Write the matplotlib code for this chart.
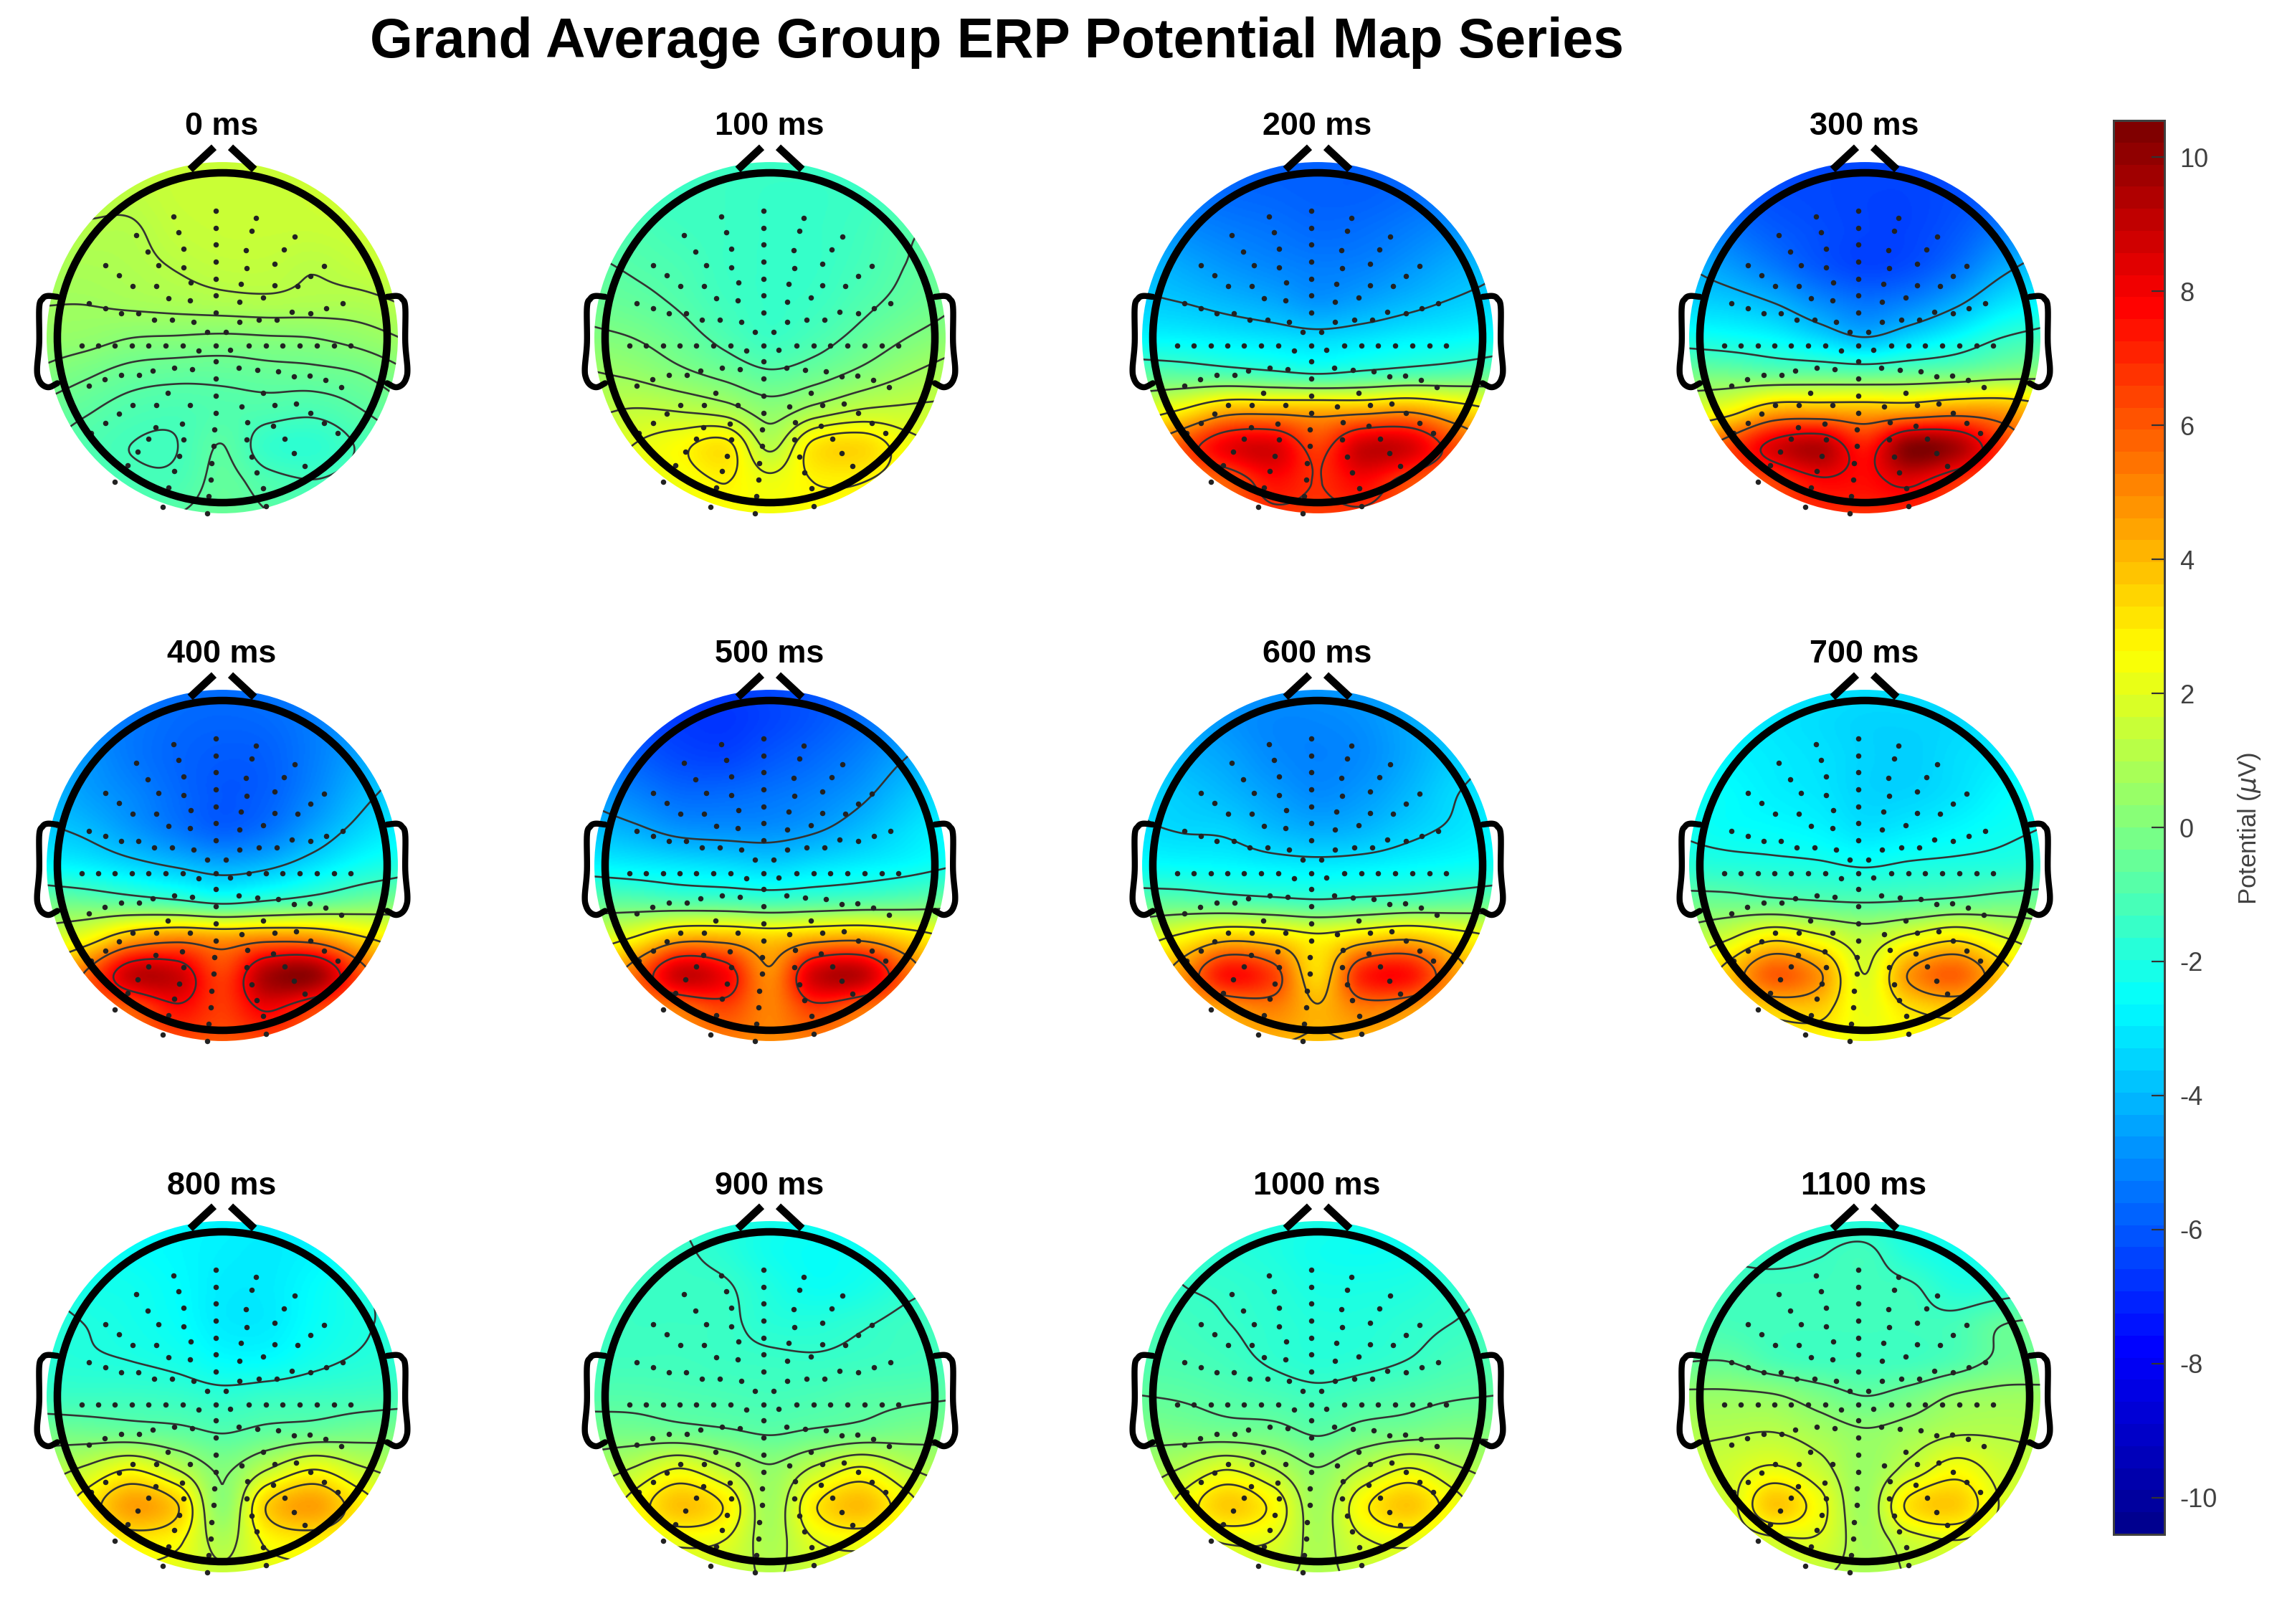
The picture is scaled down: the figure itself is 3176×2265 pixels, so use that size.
import numpy as np
import matplotlib
matplotlib.use("Agg")
import matplotlib.pyplot as plt
from matplotlib.colors import LinearSegmentedColormap, Normalize
from matplotlib.cm import ScalarMappable
from matplotlib.patches import Circle

plt.rcParams['font.family'] = ['Liberation Sans', 'DejaVu Sans']
plt.rcParams['mathtext.fontset'] = 'dejavusans'
plt.rcParams['axes.unicode_minus'] = False

W, H = 3176, 2265
DPI = 200

titles = ['0 ms', '100 ms', '200 ms', '300 ms', '400 ms', '500 ms', '600 ms', '700 ms',
          '800 ms', '900 ms', '1000 ms', '1100 ms']
cbar_ticks = [-10, -8, -6, -4, -2, 0, 2, 4, 6, 8, 10]
clim = 10.55

# Potential (uV): rows run front to back, columns left to right
grid_x = [-1.1, -0.825, -0.55, -0.275, 0, 0.275, 0.55, 0.825, 1.1]
grid_y = [1.1, 0.88, 0.66, 0.44, 0.22, 0, -0.22, -0.44, -0.66, -0.88, -1.1]

T0 = [[1.4,1.4,1.4,1.5,1.5,1.5,1.6,1.7,1.7],
      [1.3,1.3,1.3,1.5,1.5,1.5,1.6,1.7,1.7],
      [1.1,1.1,1.1,1.4,1.5,1.5,1.5,1.6,1.7],
      [0.9,0.9,1.0,1.2,1.35,1.35,1.2,1.4,1.6],
      [0.7,0.7,0.8,0.9,1.0,1.05,1.0,1.0,1.2],
      [0.5,0.4,0.2,0.15,0.1,0.15,0.2,0.4,0.7],
      [0.1,-0.2,-0.5,-0.6,-0.6,-0.5,-0.45,-0.3,0.1],
      [-0.4,-0.7,-1.0,-1.1,-0.95,-1.0,-1.1,-0.8,-0.4],
      [-0.7,-1.0,-1.25,-1.25,-0.75,-1.55,-1.7,-1.2,-0.8],
      [-0.8,-0.9,-1.1,-1.1,-0.6,-1.0,-1.2,-1.0,-0.8],
      [-0.7,-0.7,-0.8,-0.7,-0.5,-0.7,-0.9,-0.8,-0.7]]
T1 = [[-1.4,-1.4,-1.4,-1.4,-1.4,-1.4,-1.4,-1.3,-1.2],
      [-1.3,-1.4,-1.4,-1.4,-1.5,-1.5,-1.4,-1.2,-1.0],
      [-1.0,-1.1,-1.3,-1.4,-1.5,-1.5,-1.3,-0.9,-0.7],
      [-0.7,-0.9,-1.1,-1.4,-1.5,-1.5,-1.2,-0.8,-0.5],
      [-0.4,-0.6,-0.9,-1.3,-1.5,-1.4,-1.0,-0.6,-0.2],
      [0.1,-0.1,-0.5,-1.0,-1.4,-1.1,-0.6,-0.1,0.3],
      [0.7,0.5,0.1,-0.3,-0.7,-0.4,0.1,0.6,1.0],
      [1.2,1.4,1.3,1.0,0.3,0.9,1.4,1.5,1.5],
      [1.7,2.1,2.6,3.1,1.2,3.1,3.4,2.4,1.9],
      [2.0,2.2,2.4,2.8,2.3,2.8,2.8,2.4,2.0],
      [2.2,2.3,2.4,2.5,2.4,2.5,2.5,2.3,2.2]]
T2 = [[-5.6,-5.7,-5.8,-5.9,-5.9,-5.9,-5.8,-5.7,-5.6],
      [-5.2,-5.5,-5.7,-5.8,-5.9,-5.9,-5.7,-5.4,-5.2],
      [-4.6,-5.0,-5.3,-5.5,-5.7,-5.6,-5.3,-4.9,-4.5],
      [-4.0,-4.4,-4.8,-5.1,-5.3,-5.2,-4.8,-4.3,-3.9],
      [-3.6,-3.8,-4.1,-4.4,-4.8,-4.5,-4.1,-3.7,-3.4],
      [-2.7,-2.8,-3.0,-3.2,-3.4,-3.2,-2.9,-2.7,-2.4],
      [-0.7,-0.8,-1.0,-1.3,-1.6,-1.3,-1.0,-0.8,-0.5],
      [1.8,2.8,4.2,4.3,4.2,4.3,4.6,3.6,2.6],
      [4.3,6.2,8.2,8.6,6.6,8.9,8.7,6.4,4.5],
      [4.6,5.2,6.0,7.6,7.0,7.8,6.4,5.4,4.7],
      [5.4,5.8,6.2,6.6,6.6,6.6,6.2,5.8,5.4]]
T3 = [[-6.1,-6.2,-6.3,-6.4,-6.4,-6.4,-6.3,-6.2,-6.1],
      [-5.7,-6.1,-6.3,-6.4,-6.5,-6.5,-6.3,-6.0,-5.6],
      [-5.0,-5.5,-6.0,-6.3,-6.5,-6.5,-6.1,-5.4,-4.8],
      [-4.1,-4.7,-5.4,-6.1,-6.5,-6.3,-5.6,-4.5,-3.7],
      [-3.5,-3.7,-4.2,-5.0,-5.5,-5.2,-4.4,-3.3,-2.7],
      [-2.2,-2.4,-2.7,-3.4,-4.1,-3.4,-2.6,-1.7,-1.2],
      [-0.2,-0.3,-0.5,-0.5,-0.6,-0.4,-0.2,0.2,0.4],
      [1.8,2.6,4.2,4.3,4.2,4.3,4.8,4.6,3.6],
      [4.5,6.4,8.6,9.4,7.4,10.3,9.7,6.9,4.8],
      [5.0,5.8,6.6,7.8,7.7,8.3,7.0,6.0,5.2],
      [6.2,6.4,6.6,6.8,6.8,6.8,6.6,6.4,6.2]]
T4 = [[-4.9,-5.1,-5.3,-5.5,-5.6,-5.4,-5.2,-4.7,-4.3],
      [-4.7,-5.1,-5.4,-5.7,-5.8,-5.7,-5.3,-4.7,-4.1],
      [-4.3,-4.8,-5.4,-5.8,-6.0,-5.9,-5.3,-4.5,-3.8],
      [-4.0,-4.6,-5.1,-5.7,-6.1,-5.9,-5.1,-4.1,-3.4],
      [-3.6,-4.0,-4.7,-5.4,-5.9,-5.5,-4.5,-3.5,-2.8],
      [-2.6,-2.9,-3.4,-3.9,-4.3,-4.0,-3.2,-2.4,-1.9],
      [-0.3,-0.5,-0.8,-1.2,-1.7,-1.3,-0.8,-0.3,0.0],
      [1.5,2.5,4.3,5.0,4.6,5.0,4.8,3.5,2.5],
      [3.5,5.8,9.0,8.9,6.6,9.6,10.0,6.4,3.8],
      [4.5,5.4,6.0,7.6,6.7,8.0,6.6,5.5,4.6],
      [5.5,5.6,5.8,6.0,6.0,6.0,5.8,5.6,5.5]]
T5 = [[-6.2,-6.5,-6.6,-6.6,-6.4,-6.1,-5.7,-5.3,-4.9],
      [-5.9,-6.4,-6.7,-6.8,-6.5,-6.1,-5.6,-5.0,-4.5],
      [-5.3,-5.9,-6.4,-6.5,-6.1,-5.7,-5.2,-4.5,-4.0],
      [-4.7,-5.2,-5.7,-5.7,-5.5,-5.2,-4.7,-3.9,-3.2],
      [-3.9,-4.3,-4.8,-4.9,-4.9,-4.6,-4.0,-3.3,-2.7],
      [-2.7,-2.9,-3.1,-3.3,-3.5,-3.2,-2.9,-2.6,-2.2],
      [-0.6,-0.7,-0.9,-1.0,-1.2,-1.0,-0.8,-0.6,-0.3],
      [1.6,2.6,4.2,4.2,3.6,4.2,4.4,3.4,2.4],
      [3.3,5.6,8.9,8.0,5.0,8.8,9.2,5.8,3.4],
      [4.0,4.6,5.4,6.4,5.2,6.6,5.6,4.8,4.0],
      [4.7,4.8,4.9,5.0,5.0,5.0,4.9,4.8,4.7]]
T6 = [[-4.0,-4.3,-4.6,-4.8,-4.8,-4.6,-4.3,-4.0,-3.8],
      [-3.9,-4.3,-4.8,-5.1,-5.1,-4.9,-4.4,-3.9,-3.6],
      [-3.6,-4.1,-4.5,-5.0,-5.2,-5.0,-4.4,-3.7,-3.3],
      [-3.4,-3.7,-4.1,-4.6,-5.0,-4.7,-4.1,-3.4,-3.0],
      [-3.2,-3.4,-3.5,-4.0,-4.3,-4.1,-3.6,-3.2,-2.8],
      [-2.5,-2.6,-2.7,-2.9,-3.0,-2.9,-2.7,-2.5,-2.3],
      [-0.7,-0.7,-0.9,-1.1,-1.3,-1.1,-0.9,-0.7,-0.5],
      [1.6,2.6,3.7,3.4,2.6,3.4,3.9,3.0,2.2],
      [2.8,4.8,7.6,6.6,3.4,7.2,7.6,4.8,2.9],
      [3.2,3.8,4.6,5.2,4.2,5.2,4.8,3.9,3.2],
      [3.8,3.9,4.0,4.0,3.9,4.0,4.0,3.9,3.8]]
T7 = [[-2.7,-2.9,-3.0,-3.1,-3.2,-3.2,-3.2,-3.0,-2.7],
      [-2.6,-2.9,-3.1,-3.3,-3.5,-3.5,-3.4,-3.1,-2.7],
      [-2.5,-2.8,-3.0,-3.2,-3.5,-3.6,-3.3,-3.0,-2.5],
      [-2.3,-2.6,-2.9,-3.1,-3.5,-3.5,-3.2,-2.7,-2.3],
      [-2.3,-2.5,-2.6,-2.8,-3.2,-3.0,-2.7,-2.4,-2.2],
      [-1.8,-1.9,-2.0,-2.1,-2.3,-2.1,-2.0,-1.9,-1.7],
      [-0.4,-0.4,-0.6,-0.8,-0.9,-0.8,-0.6,-0.4,-0.3],
      [0.9,1.8,3.0,2.2,1.3,2.2,3.0,2.0,1.2],
      [2.0,3.8,6.0,4.8,1.9,4.8,5.9,3.8,2.0],
      [2.5,3.0,3.6,3.6,2.2,3.2,3.6,3.0,2.4],
      [2.4,2.5,2.6,2.5,2.3,2.4,2.5,2.5,2.3]]
T8 = [[-2.3,-2.4,-2.5,-2.7,-2.8,-2.9,-2.8,-2.5,-2.2],
      [-2.2,-2.3,-2.5,-2.7,-2.9,-3.0,-2.8,-2.4,-2.1],
      [-2.0,-2.2,-2.3,-2.6,-3.0,-3.0,-2.6,-2.1,-1.9],
      [-1.8,-2.0,-2.2,-2.5,-3.0,-3.0,-2.5,-2.1,-1.8],
      [-1.8,-1.9,-2.0,-2.2,-2.6,-2.6,-2.2,-1.9,-1.7],
      [-1.4,-1.4,-1.4,-1.5,-1.7,-1.5,-1.4,-1.3,-1.2],
      [-0.2,-0.3,-0.4,-0.6,-0.9,-0.6,-0.4,-0.2,-0.1],
      [0.8,1.5,2.4,1.3,0.1,1.3,2.4,1.5,0.9],
      [1.6,2.9,4.6,3.6,0.3,3.6,4.6,3.0,1.7],
      [2.0,2.2,2.9,2.6,1.0,2.6,2.9,2.4,2.0],
      [2.0,2.1,2.2,1.9,1.6,1.9,2.1,2.0,1.9]]
T9 = [[-1.4,-1.5,-1.6,-1.9,-2.2,-2.3,-2.3,-2.2,-2.0],
      [-1.4,-1.5,-1.5,-1.8,-2.3,-2.5,-2.4,-2.2,-1.9],
      [-1.3,-1.4,-1.45,-1.5,-2.0,-2.4,-2.2,-1.75,-1.5],
      [-1.3,-1.4,-1.4,-1.45,-1.8,-1.85,-1.65,-1.4,-1.3],
      [-1.3,-1.3,-1.3,-1.4,-1.45,-1.5,-1.4,-1.3,-1.2],
      [-0.9,-0.9,-1.0,-1.1,-1.2,-1.1,-0.9,-0.8,-0.7],
      [-0.2,-0.2,-0.3,-0.5,-0.7,-0.5,-0.3,-0.1,0.0],
      [0.7,1.3,2.2,1.3,0.4,1.4,2.3,1.3,0.8],
      [1.3,2.5,3.9,3.0,0.7,3.0,4.0,2.5,1.3],
      [1.5,1.8,2.3,2.1,0.9,2.1,2.4,1.8,1.4],
      [1.5,1.6,1.6,1.4,1.2,1.4,1.6,1.6,1.5]]
T10 = [[-1.6,-1.7,-1.8,-2.0,-2.1,-2.2,-2.2,-2.0,-1.8],
       [-1.5,-1.6,-1.8,-2.0,-2.3,-2.4,-2.3,-2.0,-1.7],
       [-1.3,-1.5,-1.6,-1.8,-2.1,-2.1,-2.0,-1.7,-1.5],
       [-1.1,-1.3,-1.5,-1.7,-1.9,-1.9,-1.7,-1.5,-1.3],
       [-1.0,-1.1,-1.3,-1.6,-1.8,-1.7,-1.5,-1.2,-1.0],
       [-0.6,-0.7,-0.9,-1.1,-1.3,-1.1,-0.9,-0.7,-0.6],
       [0.0,-0.1,-0.2,-0.3,-0.7,-0.3,-0.1,0.1,0.1],
       [0.6,1.2,2.0,1.2,0.3,1.2,2.1,1.3,0.8],
       [1.1,2.3,3.7,2.7,0.7,2.7,3.8,2.4,1.2],
       [1.3,1.6,2.1,2.0,0.9,1.9,2.2,1.7,1.2],
       [1.2,1.3,1.5,1.3,1.0,1.3,1.5,1.4,1.2]]
T11 = [[-1.5,-1.6,-1.8,-2.0,-2.1,-2.3,-2.3,-2.2,-2.0],
       [-1.4,-1.5,-1.6,-1.5,-1.3,-2.0,-2.3,-2.2,-1.9],
       [-1.3,-1.3,-1.3,-1.3,-1.3,-1.35,-1.9,-1.8,-1.5],
       [-1.0,-1.2,-1.3,-1.3,-1.3,-1.3,-1.2,-0.6,-0.4],
       [-0.6,-0.6,-1.1,-1.3,-1.3,-1.3,-1.0,-0.4,-0.3],
       [0.5,0.5,0.4,-0.1,-0.55,-0.2,0.4,0.6,0.6],
       [1.0,1.1,1.2,0.8,0.4,0.7,1.1,1.1,1.0],
       [1.3,1.7,2.2,1.5,0.55,1.5,2.5,1.7,1.3],
       [1.2,1.7,3.8,2.4,0.65,3.2,3.7,2.0,1.3],
       [1.2,1.5,1.8,1.9,0.8,1.6,2.0,1.6,1.2],
       [1.3,1.4,1.5,1.2,0.9,1.2,1.5,1.4,1.3]]
maps = [T0, T1, T2, T3, T4, T5, T6, T7, T8, T9, T10, T11]

# Electrode sites as digitised on the 300 ms panel
elec_px = [
 (787,415),(638,436),(929,442),(787,475),(657,492),(913,487),(507,501),(1065,506),
 (787,534),(675,549),(893,555),(547,560),(1027,553),(787,594),(585,608),(675,616),
 (895,618),(993,601),(399,608),(447,643),(787,654),(495,681),(579,681),(698,669),
 (876,674),(993,678),(1075,681),(1119,645),(1167,610),(787,713),(622,723),(696,730),
 (871,736),(954,722),(342,742),(399,759),(455,777),(516,777),(571,799),(633,799),
 (708,807),(787,773),(871,806),(938,799),(1002,799),(1054,772),(1119,777),(1176,759),
 (1233,741),(757,843),(822,843),(315,889),(373,889),(433,889),(493,889),(551,889),
 (612,889),(671,889),(787,889),(904,889),(964,889),(1023,889),(1083,889),(1143,889),
 (1203,889),(1262,889),(727,908),(839,904),(787,946),(869,969),(640,968),(703,974),
 (565,979),(517,993),(455,993),(934,976),(1006,980),(1063,997),(1117,995),(1174,1012),
 (1229,1035),(397,1007),(342,1030),(787,1005),(619,1057),(954,1055),(787,1066),(495,1098),
 (577,1100),(696,1098),(877,1104),(995,1098),(1069,1093),(447,1129),(787,1127),(1119,1127),
 (399,1163),(1167,1162),(668,1165),(899,1160),(575,1178),(989,1172),(349,1198),(783,1185),
 (1215,1197),(551,1218),(675,1220),(895,1221),(1029,1218),(781,1243),(513,1263),(659,1277),
 (913,1280),(1061,1268),(477,1310),(773,1303),(1101,1313),(640,1332),(932,1336),(769,1362),
 (433,1368),(621,1389),(955,1391),(763,1420),(601,1457),(757,1480),(965,1455)]
ear_x = [-1.0,-1.06,-1.09,-1.11,-1.11,-1.123,-1.115,-1.09,-1.05,-1.0]
ear_y = [0.248,0.253,0.236,0.184,-0.031,-0.186,-0.247,-0.286,-0.300,-0.276]

centers_x = [310, 1074, 1838, 2601]
centers_y = [471, 1207, 1948]
R_PX = 230.0
DISC = 1.065
px = 72.0 / DPI

anchors = [(0.0, (0, 0, 0.5625)), (0.125, (0, 0, 1)), (0.375, (0, 1, 1)),
           (0.625, (1, 1, 0)), (0.875, (1, 0, 0)), (1.0, (0.5, 0, 0))]
jet_bar = LinearSegmentedColormap.from_list('matlab_jet64', anchors, N=64)
jet_map = LinearSegmentedColormap.from_list('matlab_jet', anchors, N=256)
norm = Normalize(-clim, clim)


def catmull(a, n, axis):
    a = np.moveaxis(np.asarray(a, float), axis, 0)
    p = np.concatenate([[2 * a[0] - a[1]], a, [2 * a[-1] - a[-2]]])
    t = np.linspace(0, len(a) - 1, n)
    i = np.minimum(t.astype(int), len(a) - 2)
    f = t - i
    f = f.reshape((-1,) + (1,) * (a.ndim - 1))
    p0, p1, p2, p3 = p[i], p[i + 1], p[i + 2], p[i + 3]
    out = 0.5 * (2 * p1 + (p2 - p0) * f + (2 * p0 - 5 * p1 + 4 * p2 - p3) * f ** 2
                 + (3 * p1 - p0 - 3 * p2 + p3) * f ** 3)
    return np.moveaxis(out, 0, axis)


fig = plt.figure(figsize=(W / DPI, H / DPI), dpi=DPI, facecolor='white')
fig.text(1390 / W, 1 - 60 / H, 'Grand Average Group ERP Potential Map Series',
         ha='center', va='center', fontsize=27.7, fontweight='bold', color='black')

ex = (np.array([p[0] for p in elec_px]) - 810.0) / 580.0
ey = (862.0 - np.array([p[1] for p in elec_px])) / 580.0
ear_cx = catmull(ear_x, 80, 0)
ear_cy = catmull(ear_y, 80, 0)

N = 300
xs = np.linspace(grid_x[0], grid_x[-1], N)
ys = np.linspace(grid_y[0], grid_y[-1], N)
XX, YY = np.meshgrid(xs, ys)
inside = XX ** 2 + YY ** 2 <= DISC ** 2
half = 300.0
lim = half / R_PX

for k, (vals, label) in enumerate(zip(maps, titles)):
    cx = centers_x[k % 4]
    cy = centers_y[k // 4]
    ax = fig.add_axes([(cx - half) / W, 1 - (cy + half) / H, 2 * half / W, 2 * half / H])
    ax.axis('off')
    Z = catmull(catmull(vals, N, 0), N, 1)
    clip = Circle((0, 0), DISC, transform=ax.transData)
    im = ax.imshow(Z, extent=[xs[0], xs[-1], ys[-1], ys[0]], cmap=jet_map, norm=norm,
                   interpolation='bilinear', origin='upper', aspect='equal', zorder=1)
    im.set_clip_path(clip)
    ax.set_xlim(-lim, lim)
    ax.set_ylim(-lim, lim)
    levels = np.linspace(Z[inside].min(), Z[inside].max(), 8)[1:-1]
    cs = ax.contour(XX, YY, Z, levels=levels, colors='#333333', linewidths=2.6 * px,
                    linestyles='solid', zorder=2)
    cs.set_clip_path(clip)
    ax.plot(ex, ey, ls='none', marker='o', ms=7.5 * px, mfc='#222222', mec='none',
            zorder=3, clip_on=False)
    lw = 10.5 * px
    ax.add_patch(Circle((0, 0), 1.0, fill=False, ec='black', lw=lw, zorder=4))
    for sgn in (-1, 1):
        ax.plot(sgn * ear_cx, ear_cy, color='black', lw=lw * 0.8,
                solid_joinstyle='round', solid_capstyle='round', zorder=4)
        ax.plot([sgn * 0.195, sgn * 0.05], [1.02, 1.155], color='black', lw=lw,
                solid_capstyle='butt', zorder=4)
    fig.text((cx - 1) / W, 1 - (cy - 294) / H, label, ha='center', va='center',
             fontsize=16.2, fontweight='bold', color='black')

cax = fig.add_axes([2948 / W, 1 - 2140 / H, (3019 - 2948) / W, (2140 - 168) / H])
cb = fig.colorbar(ScalarMappable(norm=norm, cmap=jet_bar), cax=cax)
cb.set_ticks(cbar_ticks)
cb.ax.tick_params(direction='in', length=18 * px, width=2.2 * px, color='#333333',
                  labelcolor='#404040', labelsize=13, pad=21 * px, right=True)
cb.outline.set_edgecolor('#404040')
cb.outline.set_linewidth(3 * px)
fig.text(3137 / W, 1 - 1155 / H, r'Potential ($\mu$V)', rotation=90, ha='center',
         va='center', fontsize=12.5, color='#404040')

fig.savefig('out.png', dpi=DPI, facecolor='white')
